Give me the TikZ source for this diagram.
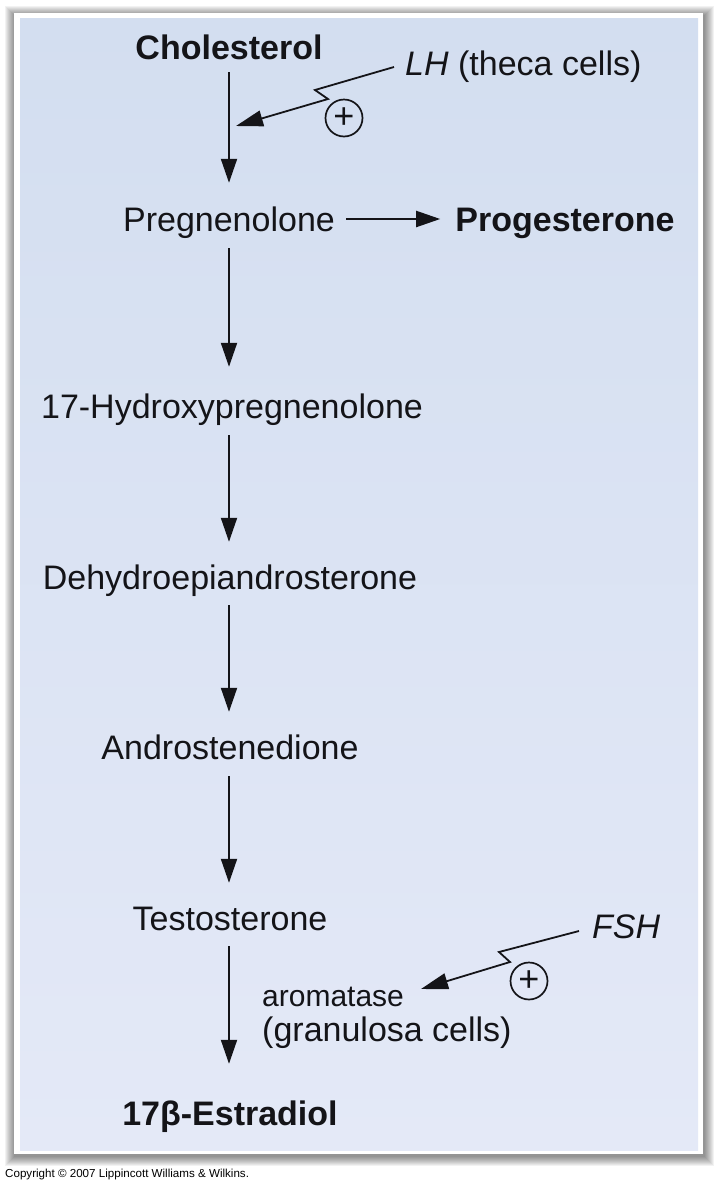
\documentclass[tikz,border=0pt]{standalone}
\usepackage{fontspec}
\setmainfont{Liberation Sans}
\usetikzlibrary{arrows.meta}
\definecolor{bgtop}{RGB}{211,222,240}
\definecolor{bgbot}{RGB}{228,233,247}
\definecolor{ink}{RGB}{20,20,24}
\begin{document}
\begin{tikzpicture}[x=1pt,y=-1pt,
  mol/.style={inner sep=0pt, text height=24pt, text depth=0pt, text=ink, font=\fontsize{34}{40}\selectfont},
  bmol/.style={mol, font=\fontsize{34}{40}\selectfont\bfseries},
  lbl/.style={inner sep=0pt, text=ink, font=\fontsize{34}{40}\selectfont},
  arr/.style={draw=ink, line width=2pt, -{Triangle[length=24pt,width=16pt]}},
  zig/.style={draw=ink, line width=1.8pt, line join=miter, -{Triangle[length=27pt,width=16pt]}},
  plus/.style={circle, draw=ink, line width=1.7pt, minimum size=37pt, inner sep=0pt, text=ink, font=\fontsize{36}{36}\selectfont}
]
\useasboundingbox (0,0) rectangle (720,1184);
\fill[white] (0,0) rectangle (720,1184);
% shadow
\foreach \i in {0,...,9}{
  \fill[black, opacity=0.05] (5+\i,6+\i) rectangle (714-\i,1166-\i);
}
\fill[white] (14,13) rectangle (703,1154);
\shade[top color=bgtop, bottom color=bgbot] (20,18) rectangle (698,1150);

% main pathway
\node[bmol] (chol) at (229,47) {Cholesterol};
\node[mol] (preg) at (229,219) {Pregnenolone};
\node[bmol] (prog) at (565,219) {Progesterone};
\node[mol] (hyd) at (232,406) {17-Hydroxypregnenolone};
\node[mol] (dhea) at (230,577) {Dehydroepiandrosterone};
\node[mol] (andro) at (230,747) {Androstenedione};
\node[mol] (testo) at (230,918) {Testosterone};
\node[bmol] (estr) at (230,1113) {17β-Estradiol};

\draw[arr, shorten <=13pt, shorten >=24pt] (chol.south) -- (preg.north);
\draw[arr, shorten <=11pt, shorten >=15pt] (preg.east) -- (prog.west);
\draw[arr, shorten <=17pt, shorten >=27pt] (preg.south) -- (hyd.north -| preg.south);
\draw[arr, shorten <=17pt, shorten >=23pt] (hyd.south -| preg.south) -- (dhea.north -| preg.south);
\draw[arr, shorten <=16pt, shorten >=23pt] (dhea.south -| preg.south) -- (andro.north -| preg.south);
\draw[arr, shorten <=17pt, shorten >=23pt] (andro.south -| preg.south) -- (testo.north -| preg.south);
\draw[arr, shorten <=16pt, shorten >=37pt] (testo.south -| preg.south) -- (estr.north -| preg.south);

% LH stimulation
\node[lbl, anchor=west] (lh) at (405,67) {\textit{LH} (theca cells)};
\coordinate (lhB) at (315,90);
\coordinate (lhC) at (328,99);
\coordinate (lhtip) at (236,126);
\draw[zig] ([xshift=-11pt]lh.west) -- (lhB) -- (lhC) -- (lhtip);
\node[plus] (lhplus) at (344,118) {+};

% FSH stimulation
\node[lbl, anchor=west] (fsh) at (592,927) {\textit{FSH}};
\node[lbl, anchor=base west, font=\fontsize{30}{36}\selectfont] (arom) at (262,1006) {aromatase};
\node[lbl, anchor=base west] (gran) at (262,1041) {(granulosa cells)};
\coordinate (fshB) at (499,952);
\coordinate (fshC) at (510,962);
\coordinate (fshtip) at (421,989);
\draw[zig] ([xshift=-13pt,yshift=-4pt]fsh.west) -- (fshB) -- (fshC) -- (fshtip);
\node[plus] (fshplus) at (529,981) {+};

% copyright
\node[inner sep=0pt, anchor=base west, text=black, font=\fontsize{11.6}{12}\selectfont] (copy) at (5,1177) {Copyright © 2007 Lippincott Williams \& Wilkins.};
\end{tikzpicture}
\end{document}
